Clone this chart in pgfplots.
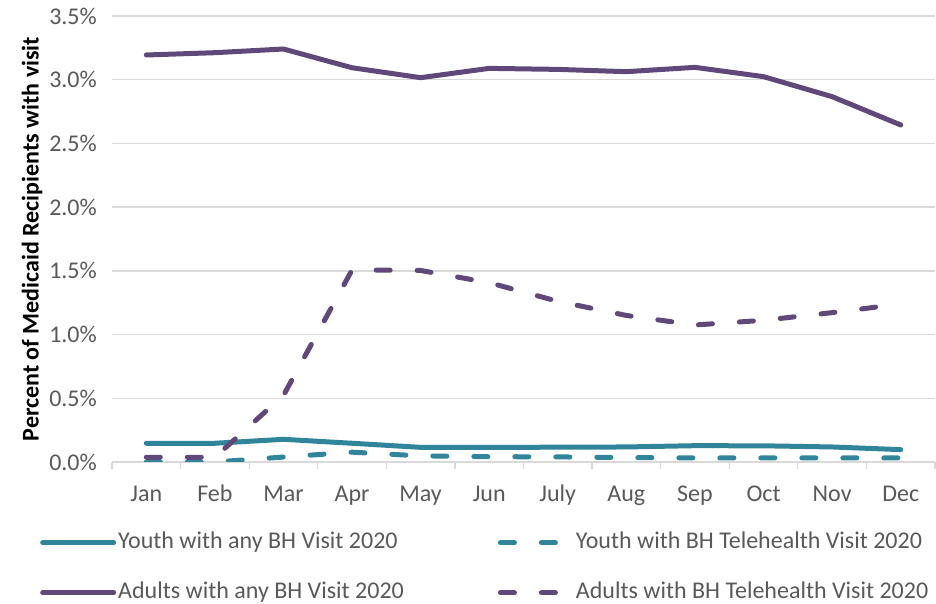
\documentclass[border=0pt]{standalone}
\usepackage{pgfplots}
\pgfplotsset{compat=1.18}
\usepackage{fontspec}
\setmainfont{Carlito}
\definecolor{cteal}{RGB}{49,133,155}
\definecolor{cpurp}{RGB}{96,73,122}
\definecolor{txt}{RGB}{89,89,89}
\definecolor{grd}{RGB}{217,217,217}
\begin{document}
\begin{tikzpicture}
\path[use as bounding box] (0,0) rectangle (936pt,604pt);
\begin{axis}[
  at={(112pt,142pt)}, anchor=south west,
  scale only axis, width=823pt, height=446pt,
  xmin=-0.5, xmax=11.5, ymin=0, ymax=3.5,
  xtick={0,...,11},
  xticklabels={Jan,Feb,Mar,Apr,May,Jun,July,Aug,Sep,Oct,Nov,Dec},
  minor xtick={-0.5,0.5,...,11.5},
  ytick={0,0.5,1,1.5,2,2.5,3,3.5},
  yticklabels={0.0\%,0.5\%,1.0\%,1.5\%,2.0\%,2.5\%,3.0\%,3.5\%},
  ymajorgrids, grid style={grd, line width=1.3pt},
  axis x line*=bottom, axis y line*=left,
  y axis line style={draw=none},
  x axis line style={grd, line width=1.3pt},
  tick align=outside, major tick length=0pt, minor tick length=7pt,
  tick style={grd, line width=1.3pt},
  ticklabel style={font=\fontsize{24}{28}\selectfont, text=txt},
  yticklabel style={anchor=east, inner sep=0pt, xshift=-15pt},
  xticklabel style={anchor=base, inner sep=0pt, yshift=-40pt},
  ylabel={Percent of Medicaid Recipients with visit},
  ylabel style={font=\fontsize{24}{28}\selectfont\bfseries, at={(axis description cs:-0.0893,0.5)}, anchor=base},
  legend columns=2, legend cell align=left,
  legend image code/.code={\draw[#1] (0pt,0pt) -- (71pt,0pt);},
  legend style={draw=none, fill=none, inner sep=0pt,
    at={(axis description cs:-0.0875,-0.157)}, anchor=north west,
    font=\fontsize{24}{28}\selectfont, text=txt,
    nodes={inner sep=0pt, text height=16pt, text depth=5pt, anchor=west},
    row sep=29pt,
    /tikz/every odd column/.append style={column sep=2pt},
    /tikz/every even column/.append style={column sep=94pt}},
  every axis plot/.append style={line width=5pt, line cap=round, line join=round},
]
\addplot[cteal] coordinates {(0,0.147) (1,0.147) (2,0.178) (3,0.147) (4,0.115) (5,0.115) (6,0.116) (7,0.118) (8,0.128) (9,0.127) (10,0.118) (11,0.097)};
\addlegendentry{Youth with any BH Visit 2020}
\addplot[cteal, dash pattern=on 14pt off 27pt] coordinates {(0,0.000) (1,0.000) (2,0.039) (3,0.077) (4,0.048) (5,0.042) (6,0.040) (7,0.035) (8,0.032) (9,0.032) (10,0.032) (11,0.032)};
\addlegendentry{Youth with BH Telehealth Visit 2020}
\addplot[cpurp] coordinates {(0,3.194) (1,3.212) (2,3.241) (3,3.094) (4,3.016) (5,3.089) (6,3.081) (7,3.063) (8,3.097) (9,3.024) (10,2.867) (11,2.645)};
\addlegendentry{Adults with any BH Visit 2020}
\addplot[cpurp, dash pattern=on 14pt off 27pt] coordinates {(0,0.037) (1,0.037) (2,0.523) (3,1.507) (4,1.503) (5,1.407) (6,1.261) (7,1.150) (8,1.075) (9,1.112) (10,1.172) (11,1.240)};
\addlegendentry{Adults with BH Telehealth Visit 2020}
\end{axis}
\end{tikzpicture}
\end{document}
